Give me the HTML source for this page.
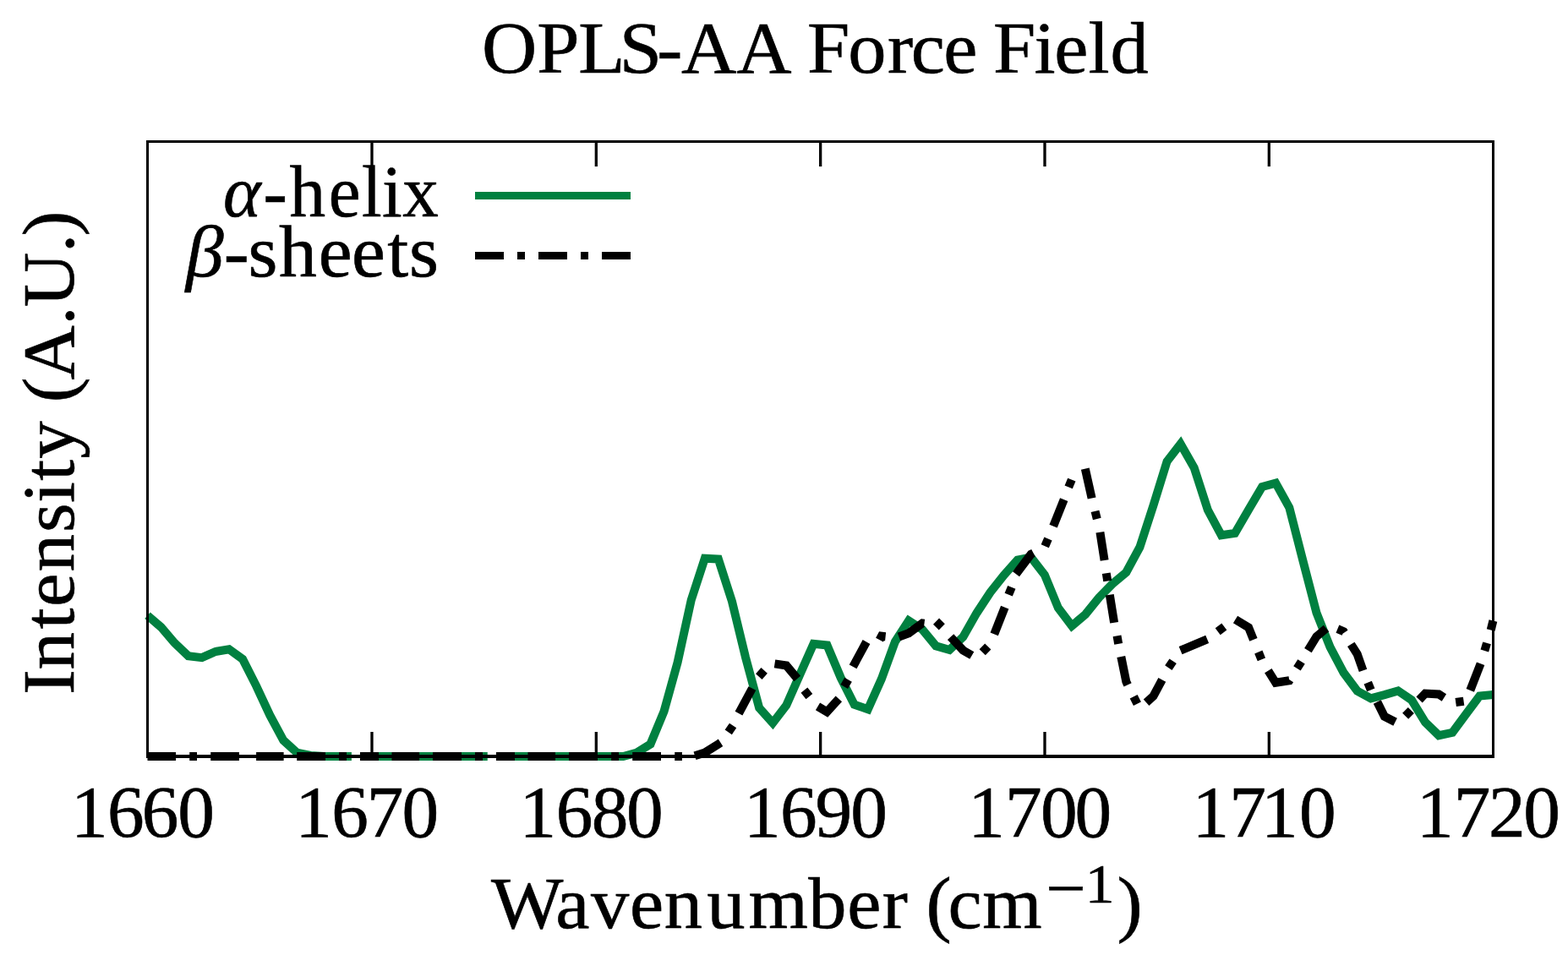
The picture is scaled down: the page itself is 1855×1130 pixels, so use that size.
<!DOCTYPE html>
<html lang="en"><head><meta charset="utf-8"><title>OPLS-AA Force Field</title>
<style>
html,body{margin:0;padding:0;background:#fff;}
body{width:1855px;height:1130px;}
svg{display:block;}
text{font-family:"Liberation Serif",serif;fill:#000;}
.it{font-style:italic;}
</style></head>
<body>
<svg width="1855" height="1130" viewBox="0 0 1855 1130">
<rect x="0" y="0" width="1855" height="1130" fill="#fff"/>
<g fill="none" stroke="#008040" stroke-width="10" stroke-linejoin="miter" stroke-miterlimit="10" stroke-linecap="butt">
<polyline points="174.5,728.3 190.58,742.1 206.66,760.9 222.74,776.2 238.82,778.1 254.9,771 270.98,768.2 287.07,779.9 303.15,811.6 319.23,846.2 335.31,876 351.39,890.6 367.47,894 383.55,895 399.63,895 415.71,895"/>
<polyline points="431.79,895 447.87,895 463.95,895 480.04,895 496.12,895 512.2,895 528.28,895 544.36,895 560.44,895 576.52,895"/>
<polyline points="592.6,895 608.68,895 624.76,895 640.84,895 656.92,895 673.01,895 689.09,895 705.17,895 721.25,895 737.33,895 753.41,890.6 769.49,880.5 785.57,841.7 801.65,783.5 817.73,710 833.81,660.8 849.89,661.6 865.97,711.5 882.06,778 898.14,837.5 914.22,855.5 930.3,834.5 946.38,798 962.46,761.8 978.54,763.5 994.62,801.8 1010.7,833.7 1026.78,839.3 1042.86,803.4 1058.94,759.2 1075.03,734.5 1091.11,744.9 1107.19,764.3 1123.27,769 1139.35,753.7 1155.43,725.4 1171.51,701 1187.59,680.6 1203.67,662.5 1219.75,659.4 1235.83,680.2 1251.91,719.3 1267.99,740.6 1284.08,727 1300.16,707 1316.24,690.8 1332.32,677.2 1348.4,647.5 1364.48,598 1380.56,546 1396.64,525.3 1412.72,553.5 1428.8,603.3 1444.88,633.3 1460.96,631 1477.05,603.3 1493.13,576 1509.21,571.6 1525.29,600.5 1541.37,663.2 1557.45,725 1573.53,765.7 1589.61,796 1605.69,817.6 1621.77,826.4 1637.85,822.1 1653.93,817.4 1670.02,828.4 1686.1,854.5 1702.18,870.2 1718.26,866.8 1734.34,845 1750.42,823.6 1766.5,822"/>
<line x1="562" y1="231.5" x2="746" y2="231.5" stroke-width="9"/>
</g>
<g fill="#008040">
<rect x="367.47" y="890" width="48.24" height="10"/>
<rect x="431.79" y="890" width="144.73" height="10"/>
<rect x="592.6" y="890" width="144.73" height="10"/>
</g>
<g fill="#000">
<rect x="174.5" y="890" width="33.5" height="10"/>
<rect x="224.2" y="890" width="8.8" height="10"/>
<rect x="249.2" y="890" width="33.8" height="10"/>
<rect x="303.1" y="890" width="32.5" height="10"/>
<rect x="351.2" y="890" width="33.8" height="10"/>
<rect x="401" y="890" width="9" height="10"/>
<rect x="426" y="890" width="22" height="10"/>
<rect x="463.5" y="890" width="32.6" height="10"/>
<rect x="512" y="890" width="34" height="10"/>
<rect x="562" y="890" width="9" height="10"/>
<rect x="587" y="890" width="22" height="10"/>
<rect x="624.5" y="890" width="32.5" height="10"/>
<rect x="673" y="890" width="34" height="10"/>
<rect x="723.2" y="890" width="8.8" height="10"/>
<rect x="748.2" y="890" width="33.8" height="10"/>
<rect x="798.2" y="890" width="8.8" height="10"/>
</g>
<g fill="none" stroke="#000" stroke-width="10" stroke-linejoin="miter" stroke-miterlimit="4" stroke-linecap="butt">
<polyline points="822,894.2 833.8,890.6 849.9,880.5 852.5,878.8"/>
<polyline points="874,844.1 889.9,814.5"/>
<polyline points="916.5,785.4 930.3,787.5 943.3,803"/>
<polyline points="967.5,835.9 978.3,842.4 992.3,826.8"/>
<polyline points="1009.1,788.8 1025,759.5"/>
<polyline points="1063.4,753.5 1075,749.2 1091.1,737.5 1093.5,737.8"/>
<polyline points="1124.6,753.6 1139.4,769.5 1149.8,775.5"/>
<polyline points="1176.2,750.3 1188.7,718.7"/>
<polyline points="1202,679.3 1219.75,655.8 1222.5,654.4"/>
<polyline points="1246.1,622.6 1258.7,591.1"/>
<polyline points="1283.8,554.6 1291.6,589.5"/>
<polyline points="1301.4,629.7 1306.6,662.9"/>
<polyline points="1312.8,703.8 1318.1,736.8"/>
<polyline points="1326.3,776.9 1332.3,806.5 1334.1,810.4"/>
<polyline points="1356.1,831.2 1364.5,823.7 1374.8,804.3"/>
<polyline points="1396.6,769.7 1428.2,756.4"/>
<polyline points="1461.5,732.9 1477.1,742.4 1482.9,756.9"/>
<polyline points="1500.3,793.7 1509.2,807.8 1525.3,805.3 1525.9,804.4"/>
<polyline points="1547.4,769.6 1557.45,753.2 1569,743.5"/>
<polyline points="1598.3,762.3 1605.7,774 1612.5,793.3"/>
<polyline points="1629.3,830.5 1637.85,847.8 1650.6,854.3"/>
<polyline points="1679.1,828 1686.1,820.6 1702.2,821.5 1708.4,825.4"/>
<polyline points="1739.3,816.9 1751.6,785.2"/>
<polyline points="1763.7,745.5 1766.4,734.5"/>
<polyline points="1040.5,757.2 1042.9,752.7 1047.6,753.2"/>
<polyline points="1582.4,744.2 1589.6,747.2 1590.4,748.4"/>
<line x1="861.71" y1="866.31" x2="867.09" y2="858.49"/>
<line x1="897.82" y1="800.53" x2="904.18" y2="793.47"/>
<line x1="951.41" y1="816.71" x2="957.39" y2="824.09"/>
<line x1="998.73" y1="812.41" x2="1003.48" y2="804.19"/>
<line x1="1107.54" y1="735.14" x2="1114.26" y2="741.86"/>
<line x1="1162.2" y1="771.82" x2="1168.8" y2="764.98"/>
<line x1="1193.19" y1="703.59" x2="1196.81" y2="694.81"/>
<line x1="1236.24" y1="646.27" x2="1239.96" y2="637.53"/>
<line x1="1264.19" y1="576.39" x2="1267.81" y2="567.61"/>
<line x1="1295.5" y1="604.84" x2="1297.8" y2="614.06"/>
<line x1="1308.76" y1="678.21" x2="1310.24" y2="687.59"/>
<line x1="1321.53" y1="752.42" x2="1323.17" y2="761.78"/>
<line x1="1341.17" y1="824.25" x2="1345.43" y2="832.75"/>
<line x1="1382.34" y1="790.14" x2="1387.66" y2="782.26"/>
<line x1="1440.71" y1="747.26" x2="1448.29" y2="741.54"/>
<line x1="1488.82" y1="771.5" x2="1492.38" y2="780.3"/>
<line x1="1534.46" y1="790.91" x2="1539.54" y2="782.89"/>
<line x1="1618.22" y1="807.6" x2="1621.78" y2="816.4"/>
<line x1="1662.64" y1="847.26" x2="1669.36" y2="840.54"/>
<line x1="1722.2" y1="831.06" x2="1731.6" y2="829.74"/>
<line x1="1756.31" y1="769.94" x2="1759.09" y2="760.86"/>
<line x1="562" y1="302.5" x2="596" y2="302.5" stroke-width="9"/>
<line x1="612" y1="302.5" x2="621" y2="302.5" stroke-width="9"/>
<line x1="637" y1="302.5" x2="671" y2="302.5" stroke-width="9"/>
<line x1="687" y1="302.5" x2="696" y2="302.5" stroke-width="9"/>
<line x1="712" y1="302.5" x2="746" y2="302.5" stroke-width="9"/>
</g>
<g fill="#000">
<rect x="173" y="166" width="3" height="731"/>
<rect x="1765" y="166" width="3" height="731"/>
<rect x="173" y="166" width="1595" height="3"/>
<rect x="173" y="893" width="1595" height="4"/>
<rect x="438.33" y="166" width="3.3" height="31"/>
<rect x="438.33" y="866" width="3.3" height="31"/>
<rect x="703.67" y="166" width="3.3" height="31"/>
<rect x="703.67" y="866" width="3.3" height="31"/>
<rect x="969" y="166" width="3.3" height="31"/>
<rect x="969" y="866" width="3.3" height="31"/>
<rect x="1234.33" y="166" width="3.3" height="31"/>
<rect x="1234.33" y="866" width="3.3" height="31"/>
<rect x="1499.67" y="166" width="3.3" height="31"/>
<rect x="1499.67" y="866" width="3.3" height="31"/>
</g>
<g font-size="86" stroke="#000" stroke-width="0.6">
<text transform="matrix(1.0515 0 0 1 0 85.7)" x="542.2 604.17 650.84 696.85 739.22 766.64 828.5 892.25 908.28 954.15 998.58 1024.9 1061.63 1099.13 1117.41 1163.65 1186.12 1224.57 1249.25">OPLS-AA Force Field</text>
<text transform="matrix(1.0150 0 0 1 0 990)" x="82.67 125.17 165.26 207.17">1660</text>
<text transform="matrix(1.0150 0 0 1 0 990)" x="344.08 386.58 427.28 468.58">1670</text>
<text transform="matrix(1.0150 0 0 1 0 990)" x="605.49 647.99 689.4 729.99">1680</text>
<text transform="matrix(1.0150 0 0 1 0 990)" x="866.9 909.4 950.25 991.41">1690</text>
<text transform="matrix(1.0150 0 0 1 0 990)" x="1128.32 1171.42 1212.72 1252.82">1700</text>
<text transform="matrix(1.0150 0 0 1 0 990)" x="1389.73 1432.83 1469.92 1514.23">1710</text>
<text transform="matrix(1.0150 0 0 1 0 990)" x="1651.14 1694.24 1735.01 1775.64">1720</text>
<text transform="matrix(1.0518 0 0 1 0 1098)" x="552.34 624.85 664.56 708.31 746.95 795.02 841.83 909.06 952.85 992.45 1022.7 1041.46 1066.24 1104.99 1176.22 1220.55 1256.47" y="0 0 0 0 0 0 0 0 0 0 0 0 0 0 -19.88 -30 0">Wavenumber (cm<tspan font-size="80">−</tspan><tspan font-size="66">1</tspan>)</text>
<text transform="matrix(0 -1.0379 1 0 86.9 0)" x="-791.91 -763.52 -717.11 -691.86 -651.75 -606.89 -573.23 -547.97 -522.98 -477.98 -458.94 -432.99 -370.68 -349.96 -288.2 -269.15">Intensity (A.U.)</text>
<text transform="matrix(0.9911 0 0 1 0 255.5)" x="266.26 314.25 345.59 392.26 431.95 456.17 480.49"><tspan class="it">α</tspan>-helix</text>
<text transform="matrix(1.0444 0 0 1 0 326.5)" x="210.42 253.48 281.11 316.09 360.78 398.21 438.71 463.52"><tspan class="it">β</tspan>-sheets</text>
</g>
</svg>
</body></html>
